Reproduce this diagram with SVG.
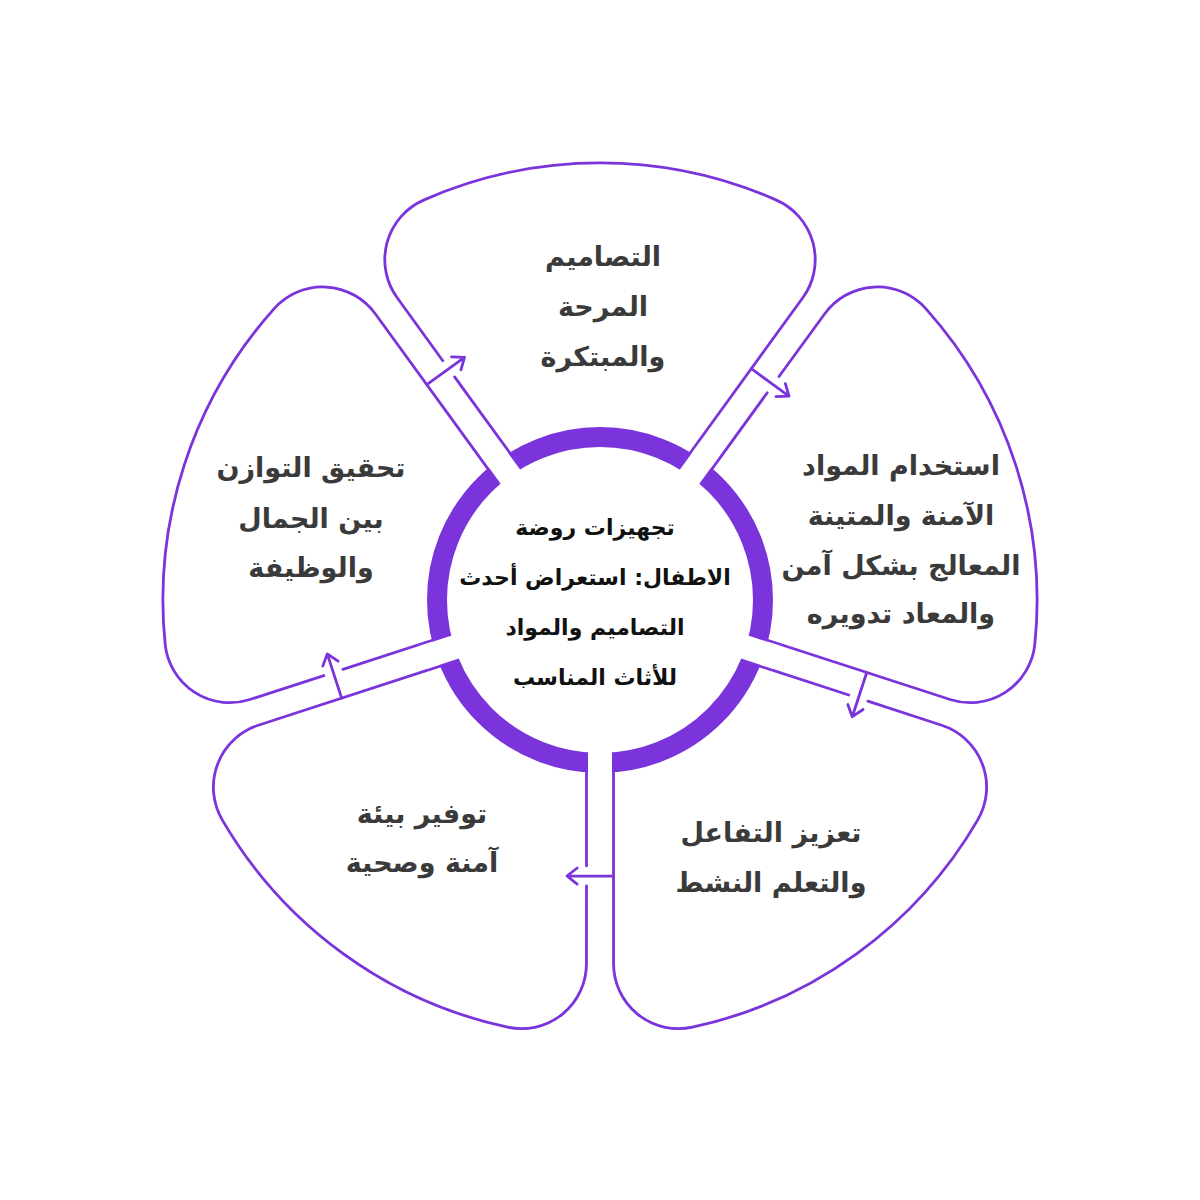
<svg xmlns="http://www.w3.org/2000/svg" width="1200" height="1200" viewBox="0 0 1200 1200">
<style>
.petal{fill:none;stroke:#7B33DB;stroke-width:2.8;stroke-linecap:round;stroke-linejoin:round}
.arrow{fill:none;stroke:#7B33DB;stroke-width:2.8;stroke-linecap:round;stroke-linejoin:round}
.lbl{font-family:"DejaVu Sans",sans-serif;font-weight:bold;font-size:27px;fill:#3a3a3a;text-anchor:middle}
.ctr{font-family:"DejaVu Sans",sans-serif;font-weight:bold;font-size:22px;fill:#111111;text-anchor:middle}
</style>
<defs>
<path id="petalShape" d="M -157.2 -239.3 L -202.8 -302.2 A 65 65 0 0 1 -176.4 -399.9 A 437 437 0 0 1 176.4 -399.9 A 65 65 0 0 1 202.8 -302.2 L 89.6 -146.3 M -89.6 -146.3 L -145.4 -223.1"/>
<path id="arrowShape" d="M -173.2 -215.4 L -135.5 -242.7 M -139.1 -230.2 L -135.5 -242.7 L -148.5 -243.2"/>
<rect id="gapShape" x="-12" y="138" width="24" height="48" fill="#ffffff"/>
</defs>
<rect width="1200" height="1200" fill="#ffffff"/>

<g id="petal-top">
<use href="#petalShape" class="petal" transform="translate(600,600) rotate(0)"/>
<text class="lbl" direction="rtl"><tspan x="603" y="266">التصاميم</tspan><tspan x="603" y="316">المرحة</tspan><tspan x="603" y="366">والمبتكرة</tspan></text>
</g>
<g id="petal-right">
<use href="#petalShape" class="petal" transform="translate(600,600) rotate(72)"/>
<text class="lbl" direction="rtl"><tspan x="901" y="475">استخدام المواد</tspan><tspan x="901" y="525">الآمنة والمتينة</tspan><tspan x="901" y="575">المعالج بشكل آمن</tspan><tspan x="901" y="623">والمعاد تدويره</tspan></text>
</g>
<g id="petal-lower-right">
<use href="#petalShape" class="petal" transform="translate(600,600) rotate(144)"/>
<text class="lbl" direction="rtl"><tspan x="771" y="842">تعزيز التفاعل</tspan><tspan x="771" y="892">والتعلم النشط</tspan></text>
</g>
<g id="petal-lower-left">
<use href="#petalShape" class="petal" transform="translate(600,600) rotate(216)"/>
<text class="lbl" direction="rtl"><tspan x="422" y="823">توفير بيئة</tspan><tspan x="422" y="872">آمنة وصحية</tspan></text>
</g>
<g id="petal-upper-left">
<use href="#petalShape" class="petal" transform="translate(600,600) rotate(288)"/>
<text class="lbl" direction="rtl"><tspan x="311" y="477">تحقيق التوازن</tspan><tspan x="311" y="528">بين الجمال</tspan><tspan x="311" y="577">والوظيفة</tspan></text>
</g>

<g id="center">
<circle cx="600" cy="600" r="163" fill="#ffffff" stroke="#7B33DB" stroke-width="20"/>
<g transform="translate(600,600)">
<use href="#gapShape" transform="rotate(0)"/>
<use href="#gapShape" transform="rotate(72)"/>
<use href="#gapShape" transform="rotate(144)"/>
<use href="#gapShape" transform="rotate(216)"/>
<use href="#gapShape" transform="rotate(288)"/>
</g>
<text class="ctr" direction="rtl"><tspan x="595" y="535">تجهيزات روضة</tspan><tspan x="595" y="585">الاطفال: استعراض أحدث</tspan><tspan x="595" y="635">التصاميم والمواد</tspan><tspan x="595" y="685">للأثاث المناسب</tspan></text>
</g>

<g id="connectors">
<use href="#arrowShape" class="arrow" transform="translate(600,600) rotate(0)"/>
<use href="#arrowShape" class="arrow" transform="translate(600,600) rotate(72)"/>
<use href="#arrowShape" class="arrow" transform="translate(600,600) rotate(144)"/>
<use href="#arrowShape" class="arrow" transform="translate(600,600) rotate(216)"/>
<use href="#arrowShape" class="arrow" transform="translate(600,600) rotate(288)"/>
</g>
</svg>
